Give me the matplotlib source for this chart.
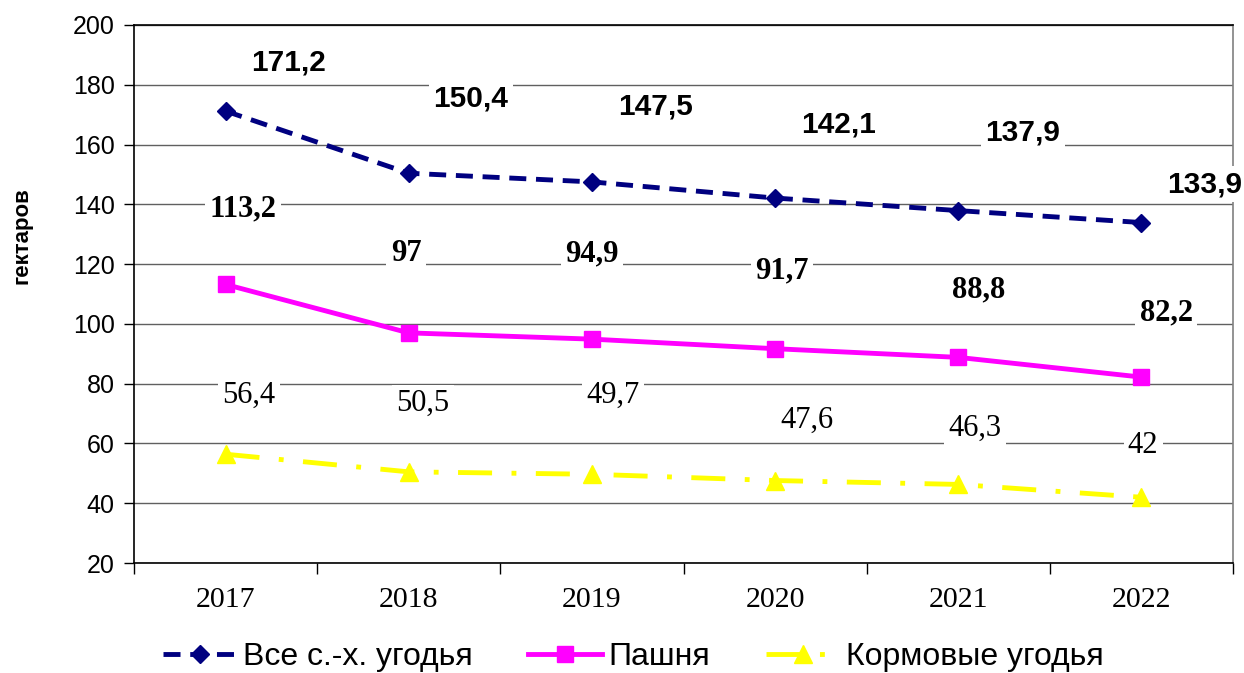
import matplotlib
matplotlib.use("Agg")
import matplotlib.pyplot as plt
from matplotlib.ticker import FixedLocator

years = ["2017", "2018", "2019", "2020", "2021", "2022"]
all_land = [171.2, 150.4, 147.5, 142.1, 137.9, 133.9]
arable = [113.2, 97, 94.9, 91.7, 88.8, 82.2]
forage = [56.4, 50.5, 49.7, 47.6, 46.3, 42]
all_land_labels = ["171,2", "150,4", "147,5", "142,1", "137,9", "133,9"]
arable_labels = ["113,2", "97", "94,9", "91,7", "88,8", "82,2"]
forage_labels = ["56,4", "50,5", "49,7", "47,6", "46,3", "42"]
series_names = ["Все с.-х. угодья", "Пашня", "Кормовые угодья"]
y_label = "гектаров"

# label placement offsets from each point (layout only): (dx in categories, dy in data units to baseline)
off1 = [(0.346, 13.7), (0.340, 22.2), (0.350, 22.4), (0.349, 21.8), (0.353, 23.6), (0.347, 10.2)]
off2 = [(0.095, 22.6), (-0.015, 24.0), (0.000, 26.1), (0.038, 23.6), (0.113, 19.9), (0.134, 18.8)]
off3 = [(0.128, 17.1), (0.078, 20.4), (0.115, 23.8), (0.174, 17.6), (0.091, 16.2), (0.009, 14.8)]

fig = plt.figure(figsize=(12.44, 6.73), dpi=100)
ax = fig.add_axes([0.1077, 0.1634, 0.8835, 0.7995])

x = list(range(len(years)))
ax.set_xlim(-0.5, len(years) - 0.5)
ax.set_ylim(20, 200)
ax.set_yticks(range(20, 201, 20))
ax.grid(axis="y", color="#606060", linewidth=1.0, zorder=0)
ax.set_axisbelow(True)

l1, = ax.plot(x, all_land, color="#000080", linestyle=(0, (3.5, 2)), linewidth=3.5,
              marker="D", markersize=9, zorder=3)
l2, = ax.plot(x, arable, color="#FF00FF", linestyle="-", linewidth=3.5,
              marker="s", markersize=11, zorder=3)
l3, = ax.plot(x, forage, color="#FFFF00", linestyle=(0, (7, 4, 1, 4)), linewidth=3.5,
              marker="^", markersize=13, zorder=3)

bbox = dict(facecolor="white", edgecolor="none", pad=3)
for i in x:
    ax.text(i + off1[i][0], all_land[i] + off1[i][1], all_land_labels[i], ha="center", va="baseline",
            fontsize=21.5, fontweight="bold", family="Liberation Sans", bbox=bbox, zorder=4)
    ax.text(i + off2[i][0], arable[i] + off2[i][1], arable_labels[i], ha="center", va="baseline",
            fontsize=22, fontweight="bold", family="Liberation Serif", bbox=bbox, zorder=4)
    ax.text(i + off3[i][0], forage[i] + off3[i][1], forage_labels[i], ha="center", va="baseline",
            fontsize=22, family="Liberation Serif", bbox=bbox, zorder=4)

ax.set_xticks(x)
ax.set_xticklabels(years, family="Liberation Serif", fontsize=21.5)
ax.xaxis.set_minor_locator(FixedLocator([i + 0.5 for i in range(-1, len(years))]))
ax.tick_params(axis="x", which="major", length=0, pad=17)
ax.tick_params(axis="x", which="minor", length=8, width=1, direction="out")
ax.tick_params(axis="y", length=7, width=1, direction="out", pad=7)
for lab in ax.get_yticklabels():
    lab.set_family("Liberation Sans")
    lab.set_fontsize(18)

ax.spines["top"].set_color("black")
ax.spines["right"].set_color("#808080")
ax.spines["left"].set_color("black")
ax.spines["bottom"].set_color("black")
for s in ax.spines.values():
    s.set_linewidth(1.2)

fig.text(0.018, 1 - 236 / 673, y_label, rotation=90, ha="center", va="center",
         fontsize=16, fontweight="bold", family="Liberation Sans")

fig.legend([l1, l2, l3], series_names, loc="center", bbox_to_anchor=(0.509, 0.024),
           ncol=3, frameon=False, prop={"family": "Liberation Sans", "size": 23},
           handlelength=2.3, handletextpad=0.2, columnspacing=1.75, borderpad=0)

fig.savefig("out.png", dpi=100)
